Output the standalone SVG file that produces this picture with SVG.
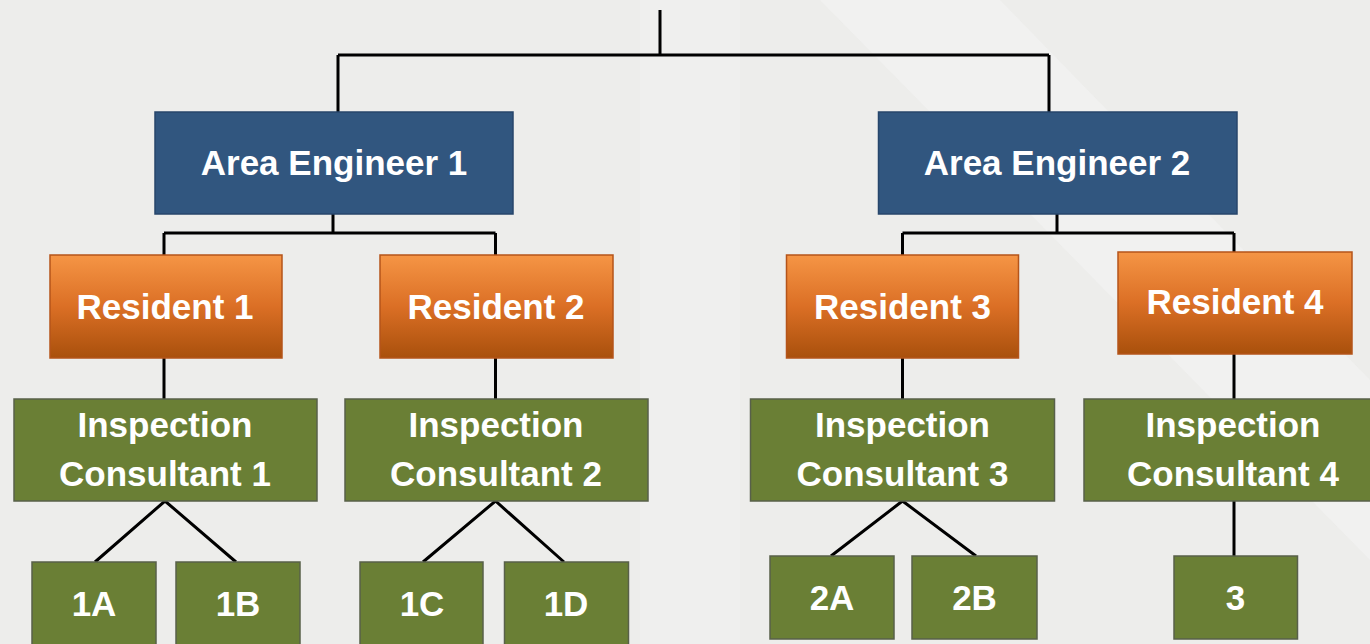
<svg xmlns="http://www.w3.org/2000/svg" width="1370" height="644" viewBox="0 0 1370 644">
<style>
.bg{fill:#EDEDEB}
.eng{fill:#31567F;stroke:#27466B;stroke-width:1.5}
.res{fill:url(#og);stroke:#B5541A;stroke-width:1.5}
.grn{fill:#6A7F35;stroke:#58604A;stroke-width:1.5}
.t{font-family:"Liberation Sans",Arial,sans-serif;font-weight:bold;font-size:35px;fill:#FFFFFF;text-anchor:middle}
.c{fill:none;stroke:#000;stroke-width:3}
</style>
<defs>
<linearGradient id="og" x1="0" y1="0" x2="0" y2="1">
<stop offset="0" stop-color="#F59545"/>
<stop offset="0.5" stop-color="#DB6F25"/>
<stop offset="1" stop-color="#A9500C"/>
</linearGradient>
</defs>
<rect class="bg" x="0" y="0" width="1370" height="644"/>
<polygon points="820,0 1000,0 1370,380 1370,560" fill="#F4F4F3" opacity="0.6"/>
<rect x="640" y="0" width="100" height="644" fill="#F2F2F1" opacity="0.5"/>

<g id="connectors">
<path class="c" d="M660,10 V55 M338,55 H1049 M338,55 V112 M1049,55 V112"/>
<path class="c" d="M333,214 V233 M164,233 H495.5 M164,233 V255 M495.5,233 V255"/>
<path class="c" d="M1057,214 V233 M902.5,233 H1234 M902.5,233 V255 M1234,233 V252"/>
<path class="c" d="M164,358 V399 M495.5,358 V399 M902.5,358 V399 M1234,354 V399"/>
<path class="c" d="M95,562 L165,501 L236,562"/>
<path class="c" d="M423,562 L495.5,501 L564,562"/>
<path class="c" d="M831,556 L902.5,501 L976,556"/>
<path class="c" d="M1234,501 V556"/>
</g>

<g id="ae1"><rect class="eng" x="155" y="112" width="358" height="102"/><text class="t" x="334" y="175">Area Engineer 1</text></g>
<g id="ae2"><rect class="eng" x="878.5" y="112" width="358.5" height="102"/><text class="t" x="1057" y="175">Area Engineer 2</text></g>

<g id="r1"><rect class="res" x="50" y="255" width="232" height="103"/><text class="t" x="165" y="319">Resident 1</text></g>
<g id="r2"><rect class="res" x="380" y="255" width="233" height="103"/><text class="t" x="496" y="319">Resident 2</text></g>
<g id="r3"><rect class="res" x="786.5" y="255" width="232" height="103"/><text class="t" x="902.5" y="319">Resident 3</text></g>
<g id="r4"><rect class="res" x="1118" y="252" width="234" height="102"/><text class="t" x="1235" y="314">Resident 4</text></g>

<g id="ic1"><rect class="grn" x="14" y="399" width="303" height="102"/><text class="t" x="165" y="437">Inspection</text><text class="t" x="165" y="486">Consultant 1</text></g>
<g id="ic2"><rect class="grn" x="345" y="399" width="303" height="102"/><text class="t" x="496" y="437">Inspection</text><text class="t" x="496" y="486">Consultant 2</text></g>
<g id="ic3"><rect class="grn" x="750.5" y="399" width="304" height="102"/><text class="t" x="902.5" y="437">Inspection</text><text class="t" x="902.5" y="486">Consultant 3</text></g>
<g id="ic4"><rect class="grn" x="1084" y="399" width="303" height="102"/><text class="t" x="1233" y="437">Inspection</text><text class="t" x="1233" y="486">Consultant 4</text></g>

<g id="l1a"><rect class="grn" x="32" y="562" width="124" height="100"/><text class="t" x="94" y="616">1A</text></g>
<g id="l1b"><rect class="grn" x="176" y="562" width="124" height="100"/><text class="t" x="238" y="616">1B</text></g>
<g id="l1c"><rect class="grn" x="360" y="562" width="123" height="100"/><text class="t" x="422" y="616">1C</text></g>
<g id="l1d"><rect class="grn" x="504.5" y="562" width="124" height="100"/><text class="t" x="566" y="616">1D</text></g>
<g id="l2a"><rect class="grn" x="770" y="556" width="124" height="83"/><text class="t" x="832" y="610">2A</text></g>
<g id="l2b"><rect class="grn" x="912" y="556" width="125" height="83"/><text class="t" x="974.5" y="610">2B</text></g>
<g id="l3"><rect class="grn" x="1174" y="556" width="123.5" height="83"/><text class="t" x="1235.5" y="610">3</text></g>
</svg>
